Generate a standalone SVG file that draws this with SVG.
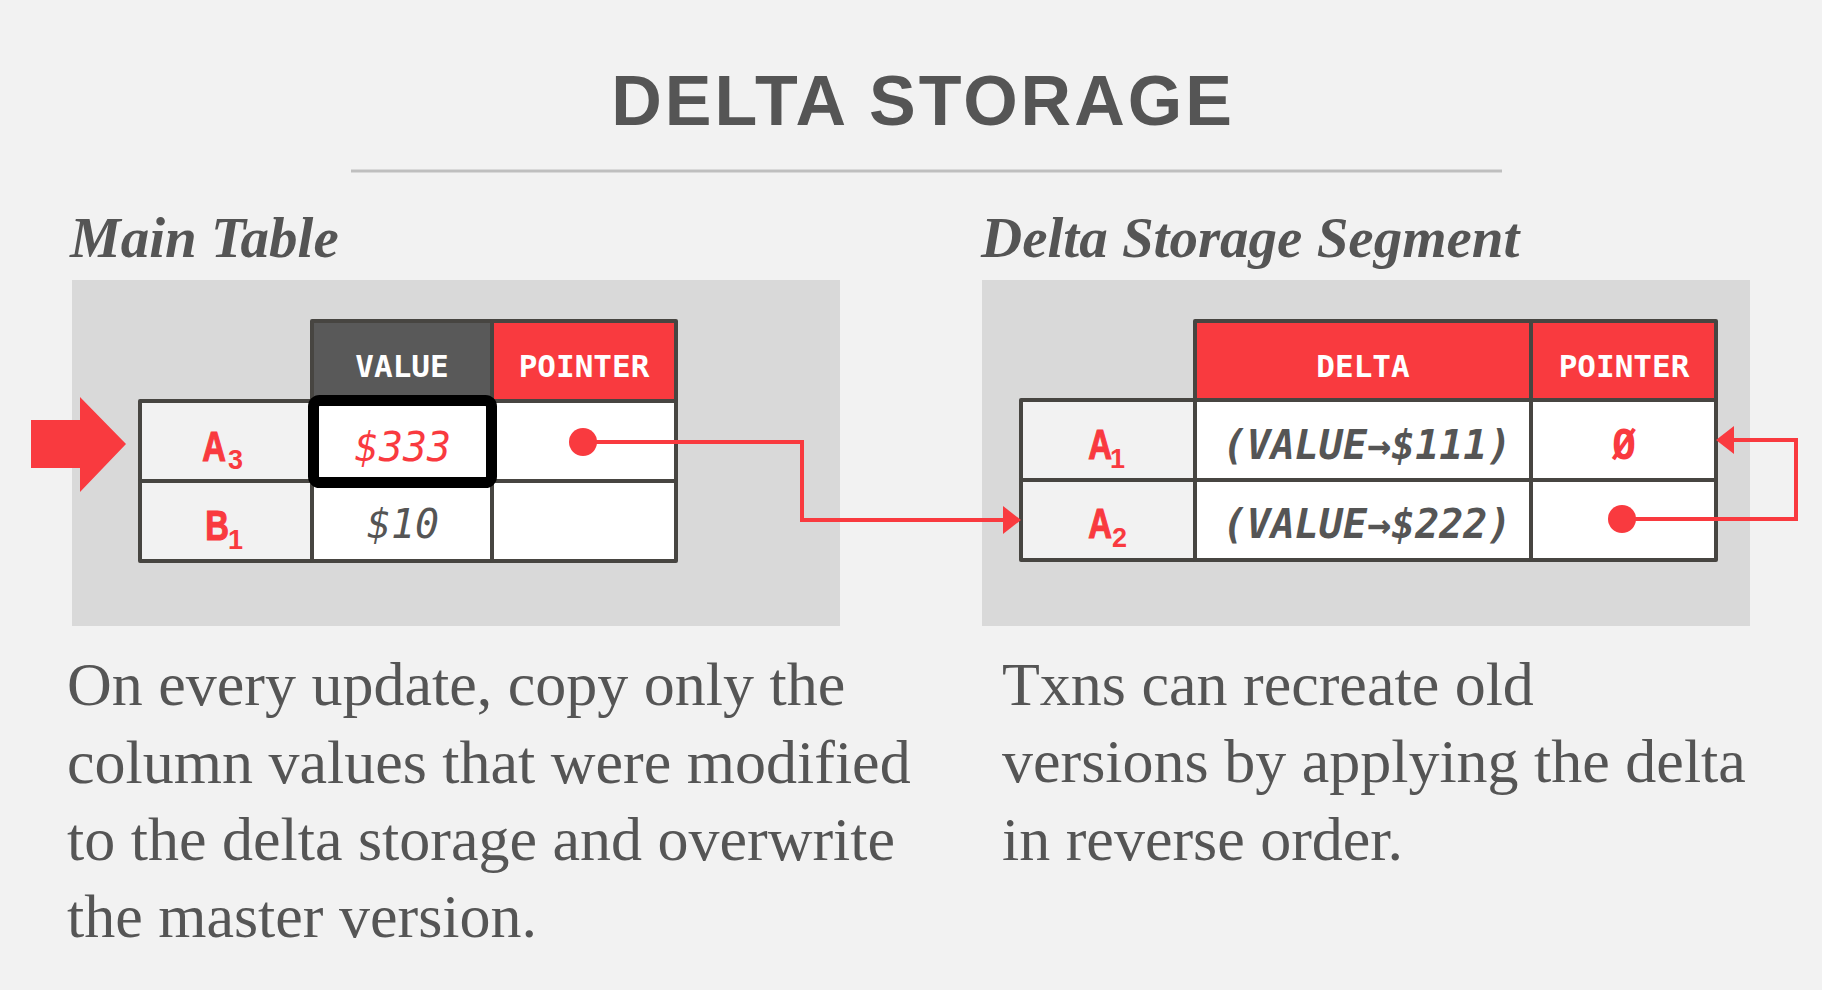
<svg xmlns="http://www.w3.org/2000/svg" width="1822" height="990" viewBox="0 0 1822 990">
<defs>
<style>
.bg{fill:#f2f2f2}
.panel{fill:#d9d9d9}
.cell{stroke:#474541;stroke-width:4;stroke-linejoin:round}
.lbl{fill:#f2f2f2}
.wht{fill:#ffffff}
.hdark{fill:#595959}
.hred{fill:#f93a3f}
.title{font-family:"Liberation Sans",Arial,sans-serif;font-weight:bold;font-size:70px;fill:#555555;letter-spacing:3px}
.head{font-family:"Liberation Serif","Times New Roman",serif;font-weight:bold;font-style:italic;font-size:57px;fill:#555555}
.para{font-family:"Liberation Serif","Times New Roman",serif;font-size:62px;fill:#555555}
.hdr{font-family:"DejaVu Sans Mono","Liberation Mono",monospace;font-weight:bold;font-size:31px;fill:#ffffff;text-anchor:middle}
.key{font-family:"Liberation Sans",Arial,sans-serif;font-weight:bold;font-size:42px;fill:#f93a3f;text-anchor:middle;stroke:#f93a3f;stroke-width:1.2}
.sub{font-family:"Liberation Sans",Arial,sans-serif;font-weight:bold;font-size:27px;fill:#f93a3f}
.val{font-family:"DejaVu Sans Mono","Liberation Mono",monospace;font-style:italic;font-size:40px;text-anchor:middle}
.dval{font-family:"DejaVu Sans Mono","Liberation Mono",monospace;font-weight:bold;font-style:italic;font-size:40px;fill:#555555;text-anchor:middle}
.null{font-family:"DejaVu Sans Mono","Liberation Mono",monospace;font-weight:bold;font-size:40px;fill:#f93a3f;text-anchor:middle}
.link{fill:none;stroke:#f93a3f;stroke-width:4}
.dot{fill:#f93a3f}
</style>
<marker id="ah" viewBox="0 0 18 28" markerUnits="userSpaceOnUse" markerWidth="18" markerHeight="28" refX="0" refY="14" orient="auto">
<path d="M0,0 L18,14 L0,28 Z" fill="#f93a3f"/>
</marker>
</defs>
<rect class="bg" x="0" y="0" width="1822" height="990"/>

<g id="title">
<text class="title" x="923" y="125" text-anchor="middle">DELTA STORAGE</text>
<line x1="351" y1="171" x2="1502" y2="171" stroke="#bfbfbf" stroke-width="3"/>
</g>

<g id="main-table">
<text class="head" x="70" y="257">Main Table</text>
<rect class="panel" x="72" y="280" width="768" height="346"/>
<rect class="cell hdark" x="312" y="321" width="180" height="80"/>
<rect class="cell hred" x="492" y="321" width="184" height="80"/>
<rect class="cell lbl" x="140" y="401" width="172" height="80"/>
<rect class="cell wht" x="312" y="401" width="180" height="80"/>
<rect class="cell wht" x="492" y="401" width="184" height="80"/>
<rect class="cell lbl" x="140" y="481" width="172" height="80"/>
<rect class="cell wht" x="312" y="481" width="180" height="80"/>
<rect class="cell wht" x="492" y="481" width="184" height="80"/>
<text class="hdr" x="402" y="377">VALUE</text>
<text class="hdr" x="584" y="377">POINTER</text>
<text class="key" transform="translate(214 461) scale(0.78 1)">A</text>
<text class="sub" x="228" y="469">3</text>
<text class="key" transform="translate(217 540) scale(0.78 1)">B</text>
<text class="sub" x="228" y="549">1</text>
<text class="val" x="403" y="461" fill="#f93a3f">$333</text>
<text class="val" x="403" y="538" fill="#555555">$10</text>
<rect x="313.5" y="400.5" width="178" height="82" rx="6" ry="6" fill="none" stroke="#000000" stroke-width="11"/>
</g>

<g id="current-arrow">
<polygon points="31,420 80,420 80,397 126,444 80,492 80,468 31,468" fill="#f93a3f"/>
</g>

<g id="delta-table">
<text class="head" x="981" y="257">Delta Storage Segment</text>
<rect class="panel" x="982" y="280" width="768" height="346"/>
<rect class="cell hred" x="1195" y="321" width="336" height="79"/>
<rect class="cell hred" x="1531" y="321" width="185" height="79"/>
<rect class="cell lbl" x="1021" y="400" width="174" height="80"/>
<rect class="cell wht" x="1195" y="400" width="336" height="80"/>
<rect class="cell wht" x="1531" y="400" width="185" height="80"/>
<rect class="cell lbl" x="1021" y="480" width="174" height="80"/>
<rect class="cell wht" x="1195" y="480" width="336" height="80"/>
<rect class="cell wht" x="1531" y="480" width="185" height="80"/>
<text class="hdr" x="1363" y="377">DELTA</text>
<text class="hdr" x="1624" y="377">POINTER</text>
<text class="key" transform="translate(1100 459) scale(0.78 1)">A</text>
<text class="sub" x="1110" y="468">1</text>
<text class="key" transform="translate(1100 538) scale(0.78 1)">A</text>
<text class="sub" x="1112" y="547">2</text>
<text class="dval" x="1367" y="459">(VALUE→$111)</text>
<text class="dval" x="1367" y="538">(VALUE→$222)</text>
<text class="null" x="1624" y="459">Ø</text>
</g>

<g id="connectors">
<circle class="dot" cx="583" cy="442" r="14"/>
<path class="link" d="M583,442 H802 V520 H1003" marker-end="url(#ah)"/>
<circle class="dot" cx="1622" cy="519" r="14"/>
<path class="link" d="M1622,519 H1796 V440 H1734" marker-end="url(#ah)"/>
</g>

<g id="notes">
<text class="para" x="67" y="705">On every update, copy only the</text>
<text class="para" x="67" y="783">column values that were modified</text>
<text class="para" x="67" y="860">to the delta storage and overwrite</text>
<text class="para" x="67" y="937">the master version.</text>
<text class="para" x="1002" y="705">Txns can recreate old</text>
<text class="para" x="1002" y="782">versions by applying the delta</text>
<text class="para" x="1002" y="860">in reverse order.</text>
</g>
</svg>
